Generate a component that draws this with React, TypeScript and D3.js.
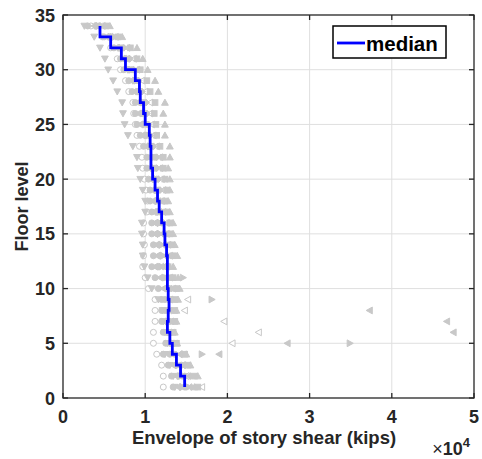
import React from 'react';
import * as d3 from 'd3';

// Floor levels (1..34) at which envelopes are reported
const floorLevels = [1,2,3,4,5,6,7,8,9,10,11,12,13,14,15,16,17,18,19,20,21,22,23,24,25,26,27,28,29,30,31,32,33,34];

// Story-shear envelopes per ground motion (units of 10^4 kips), floors 1..34
const gmCircleOpen = [1.22,1.22,1.20,1.14,1.10,1.10,1.12,1.12,1.12,1.04,1.00,0.97,0.98,0.99,0.98,0.98,1.02,1.03,1.01,0.99,0.97,0.96,0.93,0.90,0.88,0.86,0.85,0.80,0.76,0.70,0.66,0.58,0.48,0.34];
const gmTriDown = [1.36,1.34,1.30,1.24,1.27,1.24,1.22,1.21,1.16,1.08,1.03,0.99,0.97,0.97,0.96,0.96,1.00,1.00,0.97,0.94,0.91,0.90,0.85,0.79,0.75,0.73,0.72,0.66,0.61,0.55,0.51,0.45,0.38,0.26];
const gmTriLeft = [1.40,1.38,1.34,1.90,2.73,4.75,4.67,3.73,1.30,1.22,1.18,1.12,1.15,1.14,1.12,1.12,1.12,1.10,1.10,1.08,1.06,1.05,1.02,0.98,0.95,0.93,0.92,0.88,0.84,0.78,0.74,0.66,0.55,0.38];
const gmTriRight = [1.45,1.42,1.40,1.69,3.49,1.30,1.28,1.30,1.81,1.30,1.46,1.20,1.22,1.20,1.18,1.18,1.16,1.15,1.14,1.12,1.10,1.10,1.06,1.02,1.00,0.98,0.97,0.92,0.88,0.82,0.78,0.70,0.58,0.42];
const gmTriLeftOpen = [1.69,1.50,1.46,1.42,2.06,2.38,1.96,1.48,1.52,1.34,1.30,1.26,1.30,1.28,1.26,1.26,1.22,1.20,1.22,1.20,1.18,1.18,1.14,1.10,1.08,1.06,1.06,1.00,0.96,0.90,0.86,0.78,0.64,0.48];
const gmCircle = [1.50,1.48,1.44,1.36,1.32,1.28,1.30,1.28,1.24,1.26,1.22,1.16,1.18,1.17,1.15,1.15,1.14,1.13,1.12,1.10,1.08,1.08,1.04,1.00,0.97,0.95,0.94,0.90,0.86,0.80,0.75,0.68,0.56,0.40];
const gmDiamond = [1.56,1.55,1.48,1.44,1.35,1.32,1.34,1.32,1.28,1.32,1.26,1.22,1.26,1.24,1.22,1.22,1.20,1.18,1.18,1.16,1.14,1.14,1.10,1.06,1.04,1.02,1.01,0.96,0.92,0.86,0.81,0.74,0.60,0.45];
const gmSquare = [1.64,1.60,1.52,1.48,1.38,1.34,1.36,1.36,1.36,1.38,1.34,1.28,1.34,1.32,1.30,1.30,1.26,1.24,1.26,1.24,1.22,1.22,1.18,1.14,1.13,1.11,1.12,1.06,1.02,0.94,0.90,0.82,0.67,0.52];
const gmTriUp = [1.60,1.64,1.55,1.50,1.39,1.36,1.38,1.38,1.40,1.42,1.40,1.34,1.39,1.36,1.34,1.34,1.30,1.28,1.30,1.30,1.28,1.30,1.30,1.24,1.24,1.22,1.24,1.16,1.12,1.03,0.97,0.90,0.72,0.57];
const gmCircle2 = [1.34,1.32,1.28,1.22,1.25,1.22,1.20,1.20,1.20,1.16,1.12,1.08,1.10,1.10,1.08,1.08,1.08,1.06,1.06,1.04,1.02,1.02,0.98,0.94,0.90,0.88,0.88,0.84,0.80,0.74,0.70,0.62,0.50,0.30];
const gmHex = [1.48,1.45,1.38,1.30,1.30,1.26,1.26,1.24,1.32,1.29,1.28,1.26,1.27,1.25,1.24,1.20,1.17,1.16,1.16,1.14,1.12,1.12,1.08,1.04,1.02,1.00,0.98,0.94,0.90,0.84,0.80,0.72,0.60,0.44];

const groundMotions = [
  { marker: 'circleOpen', values: gmCircleOpen },
  { marker: 'triDown', values: gmTriDown },
  { marker: 'triLeft', values: gmTriLeft },
  { marker: 'triRight', values: gmTriRight },
  { marker: 'triLeftOpen', values: gmTriLeftOpen },
  { marker: 'circle', values: gmCircle },
  { marker: 'diamond', values: gmDiamond },
  { marker: 'square', values: gmSquare },
  { marker: 'triUp', values: gmTriUp },
  { marker: 'circle', values: gmCircle2 },
  { marker: 'circle', values: gmHex },
];

// Median story shear, story i spans floor i to floor i+1 (floors 1..33)
const medianStories = [1,2,3,4,5,6,7,8,9,10,11,12,13,14,15,16,17,18,19,20,21,22,23,24,25,26,27,28,29,30,31,32,33];
const medianShear = [1.48,1.43,1.38,1.33,1.30,1.27,1.28,1.29,1.28,1.27,1.27,1.27,1.26,1.24,1.23,1.20,1.17,1.15,1.12,1.09,1.07,1.07,1.06,1.05,1.00,0.98,0.94,0.93,0.88,0.76,0.71,0.58,0.45];

const xTicks = [0,1,2,3,4,5];
const yTicks = [0,5,10,15,20,25,30,35];

const W = 482, H = 459;
const left = 63, right = 474, top = 15, bottom = 398;
const FONT = '"Liberation Sans", Arial, Helvetica, sans-serif';
const AX = '#262626';
const GRAY = '#c8c8c8';

function Marker({ type, cx, cy }: { type: string; cx: number; cy: number }) {
  const s = 3.4;
  const fill = type.endsWith('Open') ? '#ffffff' : GRAY;
  const common = { fill, stroke: GRAY, strokeWidth: 1 };
  const pts = (arr: number[][]) => arr.map(p => `${cx + p[0]},${cy + p[1]}`).join(' ');
  switch (type) {
    case 'circleOpen':
    case 'circle':
      return <circle cx={cx} cy={cy} r={3} {...common} />;
    case 'triDown':
      return <polygon points={pts([[-s, -s * 0.8], [s, -s * 0.8], [0, s]])} {...common} />;
    case 'triUp':
      return <polygon points={pts([[-s, s * 0.8], [s, s * 0.8], [0, -s]])} {...common} />;
    case 'triLeft':
    case 'triLeftOpen':
      return <polygon points={pts([[s * 0.8, -s], [s * 0.8, s], [-s, 0]])} {...common} />;
    case 'triRight':
      return <polygon points={pts([[-s * 0.8, -s], [-s * 0.8, s], [s, 0]])} {...common} />;
    case 'diamond':
      return <polygon points={pts([[0, -s], [s, 0], [0, s], [-s, 0]])} {...common} />;
    case 'square':
      return <rect x={cx - 2.8} y={cy - 2.8} width={5.6} height={5.6} {...common} />;
    default:
      return <circle cx={cx} cy={cy} r={3} {...common} />;
  }
}

export default function App() {
  const x = d3.scaleLinear().domain([0, 5]).range([left, right]);
  const y = d3.scaleLinear().domain([0, 35]).range([bottom, top]);

  const stairPts: [number, number][] = [];
  medianStories.forEach((f, i) => {
    stairPts.push([medianShear[i], f]);
    stairPts.push([medianShear[i], f + 1]);
  });
  const stairPath = d3.line<[number, number]>().x(d => x(d[0])).y(d => y(d[1]))(stairPts) || '';

  const tickLen = 5;

  return (
    <svg width={W} height={H} style={{ position: 'absolute', left: 0, top: 0, background: '#fff' }}>
      <rect x={0} y={0} width={W} height={H} fill="#fff" />
      {/* grid */}
      {xTicks.slice(1, -1).map(t => (
        <line key={'gx' + t} x1={x(t)} x2={x(t)} y1={top} y2={bottom} stroke="#dfdfdf" strokeWidth={1} />
      ))}
      {yTicks.slice(1, -1).map(t => (
        <line key={'gy' + t} x1={left} x2={right} y1={y(t)} y2={y(t)} stroke="#dfdfdf" strokeWidth={1} />
      ))}
      {/* scatter */}
      {groundMotions.map((gm, gi) => (
        <g key={'gm' + gi}>
          {gm.values.map((v, i) => (
            <Marker key={i} type={gm.marker} cx={x(v)} cy={y(floorLevels[i])} />
          ))}
        </g>
      ))}
      {/* median */}
      <path d={stairPath} fill="none" stroke="#0000ff" strokeWidth={2.8} strokeLinejoin="miter" />
      {/* axes box */}
      <rect x={left} y={top} width={right - left} height={bottom - top} fill="none" stroke={AX} strokeWidth={1.3} />
      {xTicks.map(t => (
        <g key={'xt' + t}>
          <line x1={x(t)} x2={x(t)} y1={bottom} y2={bottom - tickLen} stroke={AX} strokeWidth={1.3} />
          <line x1={x(t)} x2={x(t)} y1={top} y2={top + tickLen} stroke={AX} strokeWidth={1.3} />
          <text x={x(t)} y={423} textAnchor="middle" fontFamily={FONT} fontWeight="bold" fontSize={18} fill={AX}>{t}</text>
        </g>
      ))}
      {yTicks.map(t => (
        <g key={'yt' + t}>
          <line x1={left} x2={left + tickLen} y1={y(t)} y2={y(t)} stroke={AX} strokeWidth={1.3} />
          <line x1={right} x2={right - tickLen} y1={y(t)} y2={y(t)} stroke={AX} strokeWidth={1.3} />
          <text x={55} y={y(t) + 6.5} textAnchor="end" fontFamily={FONT} fontWeight="bold" fontSize={18} fill={AX}>{t}</text>
        </g>
      ))}
      <text x={264} y={444} textAnchor="middle" fontFamily={FONT} fontWeight="bold" fontSize={18.5} fill={AX}>Envelope of story shear (kips)</text>
      <text x={470} y={455} textAnchor="end" fontFamily={FONT} fontWeight="bold" fontSize={18} fill={AX}>
        <tspan fontWeight="normal">×</tspan>10<tspan fontSize={13} dy={-8}>4</tspan>
      </text>
      <text transform={`translate(28,${(top + bottom) / 2}) rotate(-90)`} textAnchor="middle" fontFamily={FONT} fontWeight="bold" fontSize={18} fill={AX}>Floor level</text>
      {/* legend */}
      <rect x={333} y={26} width={113} height={32} fill="#fff" stroke="#000" strokeWidth={1.5} />
      <line x1={337} x2={365} y1={43} y2={43} stroke="#0000ff" strokeWidth={2.8} />
      <text x={366} y={51} fontFamily={FONT} fontWeight="bold" fontSize={20.5} fill="#000">median</text>
    </svg>
  );
}
